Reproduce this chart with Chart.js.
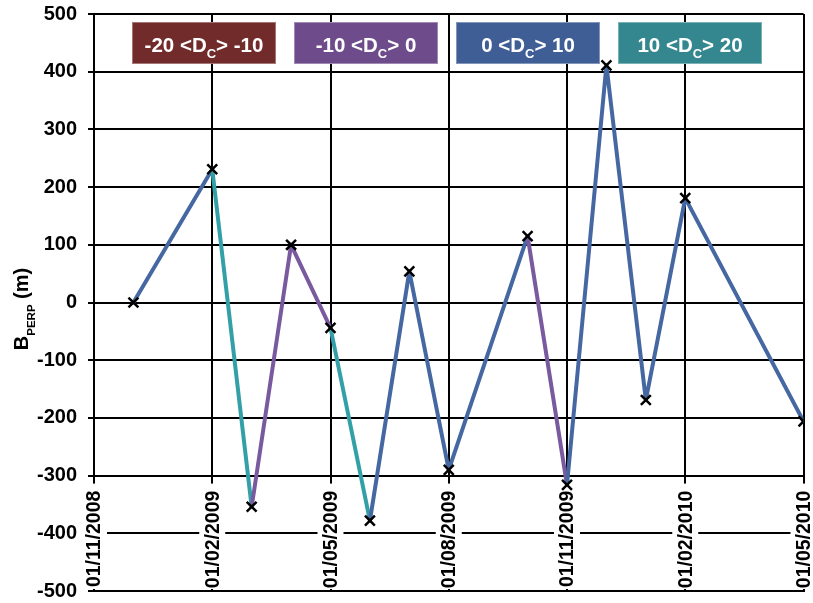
<!DOCTYPE html>
<html>
<head>
<meta charset="utf-8">
<script src="https://cdn.jsdelivr.net/npm/chart.js@4"></script>
<style>
  body { margin: 0; background: #fff; }
  #wrap { width: 813px; height: 603px; }
</style>
</head>
<body>
<div id="wrap"><canvas id="baselineChart" width="813" height="603"></canvas></div>
<script>
// acquisition dates (dd/mm/yyyy) and perpendicular baselines in metres
const acqDates = [
    '01/12/2008', '01/02/2009', '01/03/2009', '01/04/2009', '01/05/2009',
    '01/06/2009', '01/07/2009', '01/08/2009', '01/10/2009', '01/11/2009',
    '01/12/2009', '01/01/2010', '01/02/2010', '01/05/2010'
];
const bPerp = [0, 231, -354, 100, -44, -378, 54, -290, 115, -316, 411, -169, 181, -206];

// Doppler centroid class of each segment (from point i to point i+1)
const segClass = [2, 3, 1, 1, 3, 2, 2, 2, 1, 2, 2, 2, 2];
const classLabels = [['-20 <D', 'C', '> -10'], ['-10 <D', 'C', '> 0'], ['0 <D', 'C', '> 10'], ['10 <D', 'C', '> 20']];

const xTickDates = ['01/11/2008', '01/02/2009', '01/05/2009', '01/08/2009', '01/11/2009', '01/02/2010', '01/05/2010'];
const yTicks = [-500, -400, -300, -200, -100, 0, 100, 200, 300, 400, 500];

const boxColors = ['#722b2b', '#6e4c8c', '#3e5e95', '#34878e'];
const lineColors = ['#7a2e2e', '#7a5a9e', '#4668a2', '#33a0a8'];
const FONT = '"Liberation Sans", Arial, sans-serif';

// months counted from November 2008
function monthIndex(s) {
    const p = s.split('/');
    return (Number(p[2]) - 2008) * 12 + (Number(p[1]) - 11);
}

// text with a subscript part: [before, sub, after]
function drawSubText(ctx, parts, x, y, size, subSize, subDrop, align) {
    const main = 'bold ' + size + 'px ' + FONT;
    const sub = 'bold ' + subSize + 'px ' + FONT;
    ctx.font = main;
    const w0 = ctx.measureText(parts[0]).width;
    const w2 = ctx.measureText(parts[2]).width;
    ctx.font = sub;
    const w1 = ctx.measureText(parts[1]).width;
    const total = w0 + w1 + w2;
    let cx = align === 'center' ? x - total / 2 : x;
    ctx.textAlign = 'left';
    ctx.textBaseline = 'alphabetic';
    ctx.font = main;
    ctx.fillText(parts[0], cx, y);
    ctx.font = sub;
    ctx.fillText(parts[1], cx + w0, y + subDrop);
    ctx.font = main;
    ctx.fillText(parts[2], cx + w0 + w1, y);
}

const decorations = {
    id: 'decorations',
    beforeDatasetsDraw(chart) {
        const ctx = chart.ctx;
        const xs = chart.scales.x, ys = chart.scales.y;
        const area = chart.chartArea;
        const axisY = ys.getPixelForValue(-300);

        // date labels sit inside the plot, below the -300 line
        ctx.save();
        ctx.font = 'bold 19.5px ' + FONT;
        xTickDates.forEach(d => {
            const px = xs.getPixelForValue(monthIndex(d));
            ctx.fillStyle = '#fff';
            ctx.fillRect(px - 13, axisY + 8, 26, area.bottom - axisY - 10);
            ctx.save();
            ctx.translate(px, axisY + 15);
            ctx.rotate(-Math.PI / 2);
            ctx.fillStyle = '#000';
            ctx.textAlign = 'right';
            ctx.textBaseline = 'middle';
            ctx.fillText(d, 0, 1);
            ctx.restore();
        });
        ctx.restore();

        // colour key boxes
        ctx.save();
        classLabels.forEach((lbl, i) => {
            const bx = area.left + 38 + i * 162;
            ctx.fillStyle = boxColors[i];
            ctx.fillRect(bx, 22, 144, 42);
            ctx.strokeStyle = 'rgba(255,255,255,0.35)';
            ctx.lineWidth = 1;
            ctx.strokeRect(bx + 0.5, 22.5, 143, 41);
            ctx.fillStyle = '#fff';
            drawSubText(ctx, lbl, bx + 72, 52, 20.5, 13, 6, 'center');
        });
        ctx.restore();
    },
    afterDraw(chart) {
        // y-axis title, rotated
        const ctx = chart.ctx;
        ctx.save();
        ctx.translate(28, 309);
        ctx.rotate(-Math.PI / 2);
        ctx.fillStyle = '#000';
        drawSubText(ctx, ['B', 'PERP', ' (m)'], 0, 0, 20, 11.5, 7, 'center');
        ctx.restore();
    }
};

new Chart(document.getElementById('baselineChart'), {
    type: 'line',
    data: {
        datasets: [{
            data: acqDates.map((d, i) => ({ x: monthIndex(d), y: bPerp[i] })),
            borderWidth: 4,
            borderColor: lineColors[2],
            borderJoinStyle: 'round',
            borderCapStyle: 'round',
            segment: {
                borderColor: c => lineColors[segClass[c.p0DataIndex]]
            },
            pointStyle: 'crossRot',
            pointRadius: 7,
            pointBorderWidth: 2.5,
            pointBorderColor: '#000',
            pointBackgroundColor: '#000',
            tension: 0
        }]
    },
    options: {
        responsive: false,
        animation: false,
        layout: { padding: { left: 0, right: 7, top: 14, bottom: 0 } },
        plugins: {
            legend: { display: false },
            tooltip: { enabled: false }
        },
        scales: {
            x: {
                type: 'linear',
                min: monthIndex(xTickDates[0]),
                max: monthIndex(xTickDates[xTickDates.length - 1]),
                afterBuildTicks: s => { s.ticks = xTickDates.map(d => ({ value: monthIndex(d) })); },
                afterFit: s => { s.height = 12; s.paddingLeft = 0; s.paddingRight = 0; },
                ticks: { display: false },
                grid: { color: '#000', lineWidth: 2, drawTicks: false },
                border: { color: '#000', width: 2 }
            },
            y: {
                min: -500,
                max: 500,
                afterBuildTicks: s => { s.ticks = yTicks.map(v => ({ value: v })); },
                afterFit: s => { s.width = 94; s.paddingTop = 0; s.paddingBottom = 0; },
                ticks: {
                    color: '#000',
                    padding: 11,
                    font: { family: FONT, size: 20, weight: 'bold' }
                },
                grid: { color: '#000', lineWidth: 2, tickLength: 6 },
                border: { color: '#000', width: 2 }
            }
        }
    },
    plugins: [decorations]
});
</script>
</body>
</html>
